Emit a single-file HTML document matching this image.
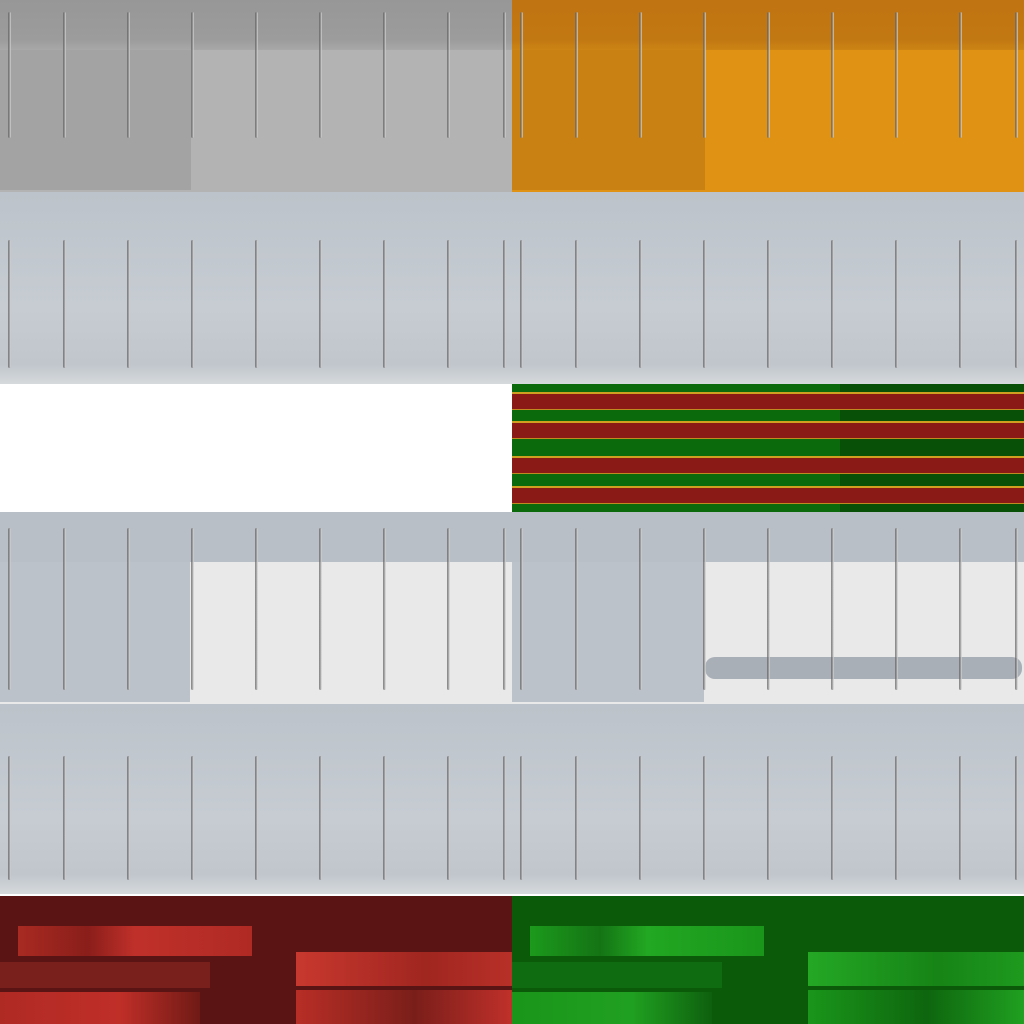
<!DOCTYPE html>
<html><head><meta charset="utf-8"><style>
html,body{margin:0;padding:0;width:1024px;height:1024px;overflow:hidden;background:#fff}
.p{position:absolute}
.g{position:absolute;width:3px;border-radius:2px;background:linear-gradient(90deg,#555,#888 50%,#eee)}
</style></head><body>
<div id="root">
<!-- row 1 gray -->
<div class="p" style="left:0;top:0;width:512px;height:192px;background:#b3b3b3"></div>
<div class="p" style="left:0;top:0;width:191px;height:190px;background:#a3a3a3"></div>
<div class="p" style="left:0;top:0;width:512px;height:50px;background:linear-gradient(#979797,#9c9c9c 80%,#a8a8a8)"></div>
<!-- row1 orange -->
<div class="p" style="left:512px;top:0;width:512px;height:192px;background:#df9214"></div>
<div class="p" style="left:512px;top:0;width:193px;height:190px;background:#c98114"></div>
<div class="p" style="left:512px;top:0;width:512px;height:50px;background:linear-gradient(#c07412,#c27812 80%,#cc8414)"></div>
<!-- row2 silver -->
<div class="p" style="left:0;top:192px;width:512px;height:192px;background:linear-gradient(#bcc3ca,#c6ccd2 60%,#c0c6cc 90%,#d6d9dc)"></div>
<div class="p" style="left:512px;top:192px;width:512px;height:192px;background:linear-gradient(#bcc3ca,#c6ccd2 60%,#c0c6cc 90%,#d6d9dc)"></div>
<!-- row3 -->
<div class="p" style="left:0;top:384px;width:512px;height:128px;background:#fff"></div>
<div class="p" style="left:512px;top:384px;width:512px;height:128px;background:#0b6a0b"></div>
<div class="p" style="left:840px;top:384px;width:184px;height:128px;background:rgba(0,0,0,0.25)"></div>
<!-- row4 -->
<div class="p" style="left:0;top:512px;width:512px;height:192px;background:#e9e9e9"></div>
<div class="p" style="left:0;top:512px;width:190px;height:190px;background:#bcc2c9"></div>
<div class="p" style="left:0;top:512px;width:512px;height:50px;background:#b9bfc6"></div>
<div class="p" style="left:512px;top:512px;width:512px;height:192px;background:#e9e9e9"></div>
<div class="p" style="left:512px;top:512px;width:192px;height:190px;background:#bcc2c9"></div>
<div class="p" style="left:512px;top:512px;width:512px;height:50px;background:#b9bfc6"></div>
<div class="p" style="left:705px;top:657px;width:317px;height:22px;border-radius:10px;background:#a9afb6"></div>
<!-- row5 -->
<div class="p" style="left:0;top:704px;width:512px;height:190px;background:linear-gradient(#bcc3ca,#c6ccd2 60%,#c0c6cc 90%,#d6d9dc)"></div>
<div class="p" style="left:512px;top:704px;width:512px;height:190px;background:linear-gradient(#bcc3ca,#c6ccd2 60%,#c0c6cc 90%,#d6d9dc)"></div>
<!-- row6 red -->
<div class="p" style="left:0;top:896px;width:512px;height:128px;background:#5a1414"></div>
<div class="p" style="left:18px;top:926px;width:234px;height:30px;background:linear-gradient(90deg,#a82a22,#8a1e1a 30%,#c0302a 50%,#b02a24)"></div>
<div class="p" style="left:0;top:962px;width:210px;height:26px;background:#7a201c"></div>
<div class="p" style="left:0;top:992px;width:200px;height:32px;background:linear-gradient(90deg,#b02a24,#c02e28 60%,#701a16)"></div>
<div class="p" style="left:296px;top:952px;width:216px;height:34px;background:linear-gradient(90deg,#c8382e,#a02620 60%,#b83028)"></div>
<div class="p" style="left:296px;top:990px;width:216px;height:34px;background:linear-gradient(90deg,#b82e26,#7a1e1a 55%,#c0302a)"></div>
<!-- row6 green -->
<div class="p" style="left:512px;top:896px;width:512px;height:128px;background:#0a5a0a"></div>
<div class="p" style="left:530px;top:926px;width:234px;height:30px;background:linear-gradient(90deg,#1c9a1c,#147414 30%,#22a822 50%,#1a961a)"></div>
<div class="p" style="left:512px;top:962px;width:210px;height:26px;background:#106c10"></div>
<div class="p" style="left:512px;top:992px;width:200px;height:32px;background:linear-gradient(90deg,#1a961a,#20a020 60%,#0e600e)"></div>
<div class="p" style="left:808px;top:952px;width:216px;height:34px;background:linear-gradient(90deg,#24a824,#168416 60%,#1e9a1e)"></div>
<div class="p" style="left:808px;top:990px;width:216px;height:34px;background:linear-gradient(90deg,#1a961a,#0e660e 55%,#20a020)"></div>
</div>
<script>
const grooveXs=[8,63,127,191,255,319,383,447,503];
const grooveRows=[[12,138],[240,368],[528,690],[756,880]];
const stripeTops=[392,421,456,486];
const stripeHeight=15;
const root=document.getElementById('root');
[0,512].forEach(function(ox){
  grooveRows.forEach(function(r){
    grooveXs.forEach(function(x){
      const g=document.createElement('div');
      g.className='g';
      
      
      g.style.left=(ox+x)+'px';g.style.top=r[0]+'px';g.style.height=(r[1]-r[0])+'px';
      g.style.opacity='0.7';
      root.appendChild(g);
    });
  });
});
stripeTops.forEach(function(t){
  const s=document.createElement('div');
  s.className='p';
  
  
  s.style.left='512px';s.style.width='512px';s.style.top=t+'px';s.style.height=stripeHeight+'px';
  s.style.background='#8a1a16';
  s.style.borderTop='2px solid #d0a020';s.style.borderBottom='1px solid #c08a20';
  root.appendChild(s);
});
</script>
</body></html>
